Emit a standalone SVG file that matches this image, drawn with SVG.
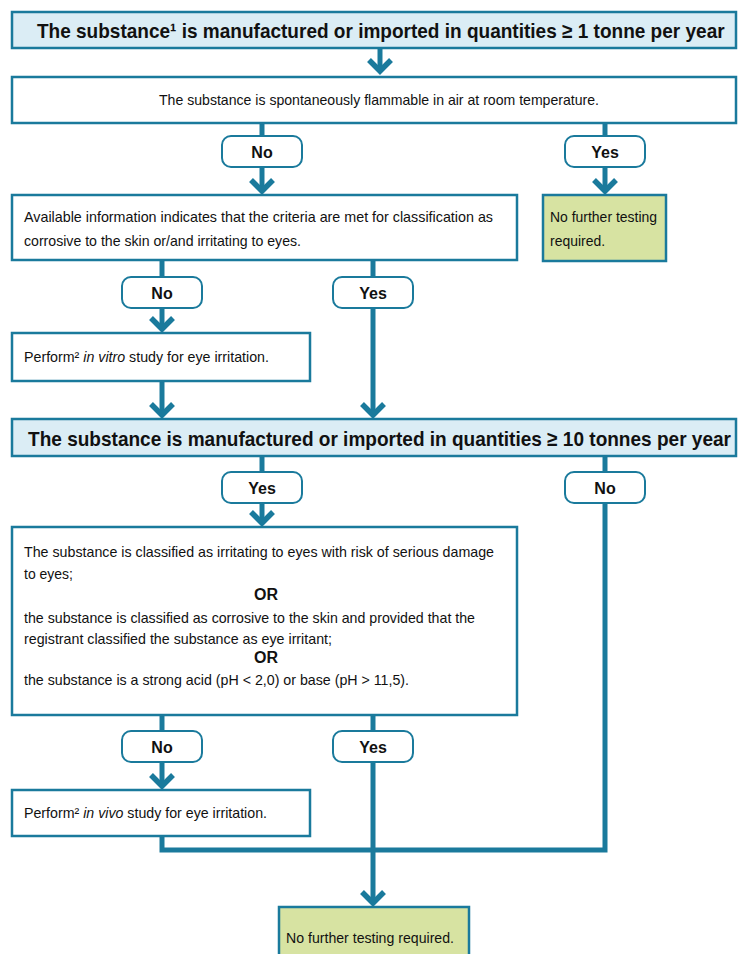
<svg xmlns="http://www.w3.org/2000/svg" width="738" height="954" viewBox="0 0 738 954">
<style>
.box{fill:#ffffff;stroke:#1a7a9c;stroke-width:2.5}
.title{fill:#dbedf5;stroke:#1a7a9c;stroke-width:2.5}
.green{fill:#d7e3a2;stroke:#1a7a9c;stroke-width:2.5}
.pill{fill:#ffffff;stroke:#1a7a9c;stroke-width:2}
.ln{fill:none;stroke:#1a7a9c;stroke-width:5;stroke-linejoin:miter}
text{font-family:"Liberation Sans Narrow","Liberation Sans",Arial,sans-serif;fill:#111}
.tt{font-size:21px;font-weight:bold}
.bd{font-size:15px}
.pl{font-size:16px;font-weight:bold;text-anchor:middle}
.or{font-size:16px;font-weight:bold;text-anchor:middle}
</style>
<defs>
<marker id="ah" markerUnits="userSpaceOnUse" markerWidth="40" markerHeight="40" viewBox="-20 -20 40 40" refX="0" refY="0" orient="auto" overflow="visible">
<path d="M-11,-11 L0,0 L-11,11" fill="none" stroke="#1a7a9c" stroke-width="5.5" stroke-miterlimit="10"/>
</marker>
</defs>

<g id="connectors">
<path class="ln" d="M380,48 V71" marker-end="url(#ah)"/>
<path class="ln" d="M262,123 V136"/>
<path class="ln" d="M262,167 V191" marker-end="url(#ah)"/>
<path class="ln" d="M605,123 V136"/>
<path class="ln" d="M605,167 V191" marker-end="url(#ah)"/>
<path class="ln" d="M162,260 V277"/>
<path class="ln" d="M373,260 V277"/>
<path class="ln" d="M162,308 V329" marker-end="url(#ah)"/>
<path class="ln" d="M373,308 V415" marker-end="url(#ah)"/>
<path class="ln" d="M162,381 V415" marker-end="url(#ah)"/>
<path class="ln" d="M262,456 V472"/>
<path class="ln" d="M262,503 V523" marker-end="url(#ah)"/>
<path class="ln" d="M605,456 V472"/>
<path class="ln" d="M605,503 V850 H162 V836"/>
<path class="ln" d="M162,715 V731"/>
<path class="ln" d="M373,715 V731"/>
<path class="ln" d="M162,762 V786" marker-end="url(#ah)"/>
<path class="ln" d="M373,762 V903" marker-end="url(#ah)"/>
</g>

<g id="n-title1">
<rect class="title" x="12" y="12" width="724" height="36"/>
<text class="tt" transform="scale(0.85,1)" x="43.5" y="38" textLength="809" lengthAdjust="spacingAndGlyphs">The substance¹ is manufactured or imported in quantities ≥ 1 tonne per year</text>
</g>

<g id="n-flammable">
<rect class="box" x="12" y="77" width="724" height="46"/>
<text class="bd" x="159" y="105" textLength="440" lengthAdjust="spacingAndGlyphs">The substance is spontaneously flammable in air at room temperature.</text>
</g>

<g id="p-no1">
<rect class="pill" x="222" y="136" width="80" height="31" rx="9"/>
<text class="pl" x="262" y="158">No</text>
</g>
<g id="p-yes1">
<rect class="pill" x="565" y="136" width="80" height="31" rx="9"/>
<text class="pl" x="605" y="158">Yes</text>
</g>

<g id="n-corrosive">
<rect class="box" x="12" y="195" width="505" height="65"/>
<text class="bd" x="24" y="222" textLength="469" lengthAdjust="spacingAndGlyphs">Available information indicates that the criteria are met for classification as</text>
<text class="bd" x="24" y="246" textLength="277" lengthAdjust="spacingAndGlyphs">corrosive to the skin or/and irritating to eyes.</text>
</g>

<g id="n-nofurther1">
<rect class="green" x="543" y="195" width="123" height="66"/>
<text class="bd" x="550" y="222" textLength="107" lengthAdjust="spacingAndGlyphs">No further testing</text>
<text class="bd" x="550" y="246" textLength="55" lengthAdjust="spacingAndGlyphs">required.</text>
</g>

<g id="p-no2">
<rect class="pill" x="122" y="277" width="80" height="31" rx="9"/>
<text class="pl" x="162" y="299">No</text>
</g>
<g id="p-yes2">
<rect class="pill" x="333" y="277" width="80" height="31" rx="9"/>
<text class="pl" x="373" y="299">Yes</text>
</g>

<g id="n-invitro">
<rect class="box" x="12" y="333" width="298" height="48"/>
<text class="bd" x="24" y="362" textLength="245" lengthAdjust="spacingAndGlyphs">Perform² <tspan font-style="italic">in vitro</tspan> study for eye irritation.</text>
</g>

<g id="n-title10">
<rect class="title" x="12" y="419" width="724" height="37"/>
<text class="tt" transform="scale(0.85,1)" x="33" y="446" textLength="827" lengthAdjust="spacingAndGlyphs">The substance is manufactured or imported in quantities ≥ 10 tonnes per year</text>
</g>

<g id="p-yes3">
<rect class="pill" x="222" y="472" width="80" height="31" rx="9"/>
<text class="pl" x="262" y="494">Yes</text>
</g>
<g id="p-no3">
<rect class="pill" x="565" y="472" width="80" height="31" rx="9"/>
<text class="pl" x="605" y="494">No</text>
</g>

<g id="n-classified">
<rect class="box" x="12" y="527" width="505" height="188"/>
<text class="bd" x="24" y="557" textLength="470" lengthAdjust="spacingAndGlyphs">The substance is classified as irritating to eyes with risk of serious damage</text>
<text class="bd" x="24" y="579" textLength="49" lengthAdjust="spacingAndGlyphs">to eyes;</text>
<text class="or" x="266" y="600">OR</text>
<text class="bd" x="24" y="623" textLength="451" lengthAdjust="spacingAndGlyphs">the substance is classified as corrosive to the skin and provided that the</text>
<text class="bd" x="24" y="644" textLength="308" lengthAdjust="spacingAndGlyphs">registrant classified the substance as eye irritant;</text>
<text class="or" x="266" y="663">OR</text>
<text class="bd" x="24" y="685" textLength="385" lengthAdjust="spacingAndGlyphs">the substance is a strong acid (pH &lt; 2,0) or base (pH &gt; 11,5).</text>
</g>

<g id="p-no4">
<rect class="pill" x="122" y="731" width="80" height="31" rx="9"/>
<text class="pl" x="162" y="753">No</text>
</g>
<g id="p-yes4">
<rect class="pill" x="333" y="731" width="80" height="31" rx="9"/>
<text class="pl" x="373" y="753">Yes</text>
</g>

<g id="n-invivo">
<rect class="box" x="12" y="790" width="298" height="46"/>
<text class="bd" x="24" y="818" textLength="243" lengthAdjust="spacingAndGlyphs">Perform² <tspan font-style="italic">in vivo</tspan> study for eye irritation.</text>
</g>

<g id="n-nofurther2">
<rect class="green" x="279" y="907" width="190" height="60"/>
<text class="bd" x="286" y="943" textLength="168" lengthAdjust="spacingAndGlyphs">No further testing required.</text>
</g>
</svg>
